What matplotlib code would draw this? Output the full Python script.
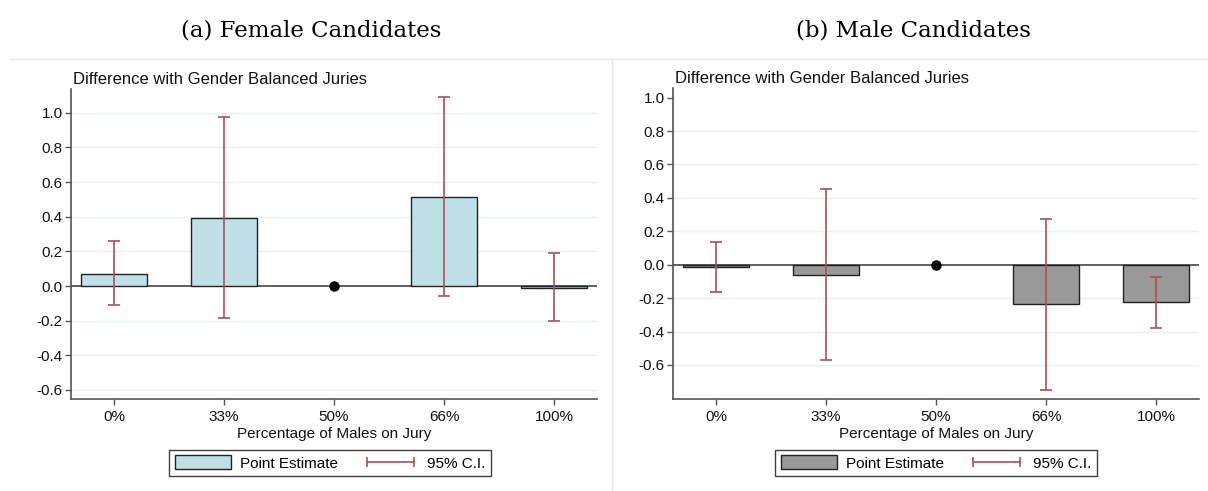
import numpy as np
import matplotlib
matplotlib.use("Agg")
import matplotlib.pyplot as plt
from matplotlib.patches import Patch
from matplotlib.lines import Line2D

plt.rcParams['font.family'] = ['Liberation Sans', 'DejaVu Sans']

# Jury composition categories
categories = ['0%', '33%', '50%', '66%', '100%']

# Female candidates: estimates and 95% CI bounds (50% is the reference group)
fem_est = [0.072, 0.392, 0.0, 0.515, -0.009]
fem_lo = [-0.112, -0.187, np.nan, -0.056, -0.200]
fem_hi = [0.257, 0.977, np.nan, 1.089, 0.188]

# Male candidates
male_est = [-0.012, -0.060, 0.0, -0.234, -0.224]
male_lo = [-0.166, -0.573, np.nan, -0.749, -0.379]
male_hi = [0.136, 0.455, np.nan, 0.275, -0.072]

fem_ticks = [1.0, 0.8, 0.6, 0.4, 0.2, 0.0, -0.2, -0.4, -0.6]
male_ticks = [1.0, 0.8, 0.6, 0.4, 0.2, 0.0, -0.2, -0.4, -0.6]

ci_color = '#a8525a'
axis_gray = '#555555'

fig = plt.figure(figsize=(12.08, 4.91), dpi=100)

# light frame lines around the two graph regions
fig.add_artist(Line2D([10 / 1208, 1], [1 - 59 / 491] * 2, color='#e8e8e8', lw=1))
fig.add_artist(Line2D([612 / 1208] * 2, [0, 1 - 59 / 491], color='#e8e8e8', lw=1))


def draw_panel(rect, est, lo, hi, ticks, ylim, color, title, title_x, leg_x):
    ax = fig.add_axes(rect)
    x = np.arange(len(categories))
    bar_idx = [i for i in x if i != 2]
    ax.bar([x[i] for i in bar_idx], [est[i] for i in bar_idx], width=0.6,
           color=color, edgecolor='#222222', linewidth=1.0, zorder=3)
    ax.axhline(0, color='#444444', lw=1.2, zorder=2)
    lo_arr = np.array(lo)
    hi_arr = np.array(hi)
    mask = ~np.isnan(lo_arr)
    mid = (lo_arr[mask] + hi_arr[mask]) / 2
    ax.errorbar(x[mask], mid, yerr=(hi_arr[mask] - lo_arr[mask]) / 2, fmt='none',
                ecolor=ci_color, elinewidth=1.2, capsize=4, capthick=1.2, zorder=4)
    ax.plot([x[2]], [est[2]], 'o', color='black', ms=6.5, zorder=5)

    ax.set_xlim(-0.39, 4.39)
    ax.set_ylim(*ylim)
    ax.set_xticks(x)
    ax.set_xticklabels(categories, fontsize=11)
    ax.set_yticks(ticks)
    ax.set_yticklabels([f'{t:.1f}' for t in ticks], fontsize=11)
    for t in ticks:
        if t != 0 and t < ylim[1] - 0.08:
            ax.axhline(t, color='#e8f0f0', lw=1, zorder=1)
    for s in ['top', 'right']:
        ax.spines[s].set_visible(False)
    for s in ['left', 'bottom']:
        ax.spines[s].set_color(axis_gray)
        ax.spines[s].set_linewidth(1.2)
    ax.tick_params(colors=axis_gray, labelcolor='#111111', length=4, width=1)
    ax.tick_params(axis='y', pad=2)
    ax.tick_params(axis='x', pad=4)
    ax.set_xlabel('Percentage of Males on Jury', fontsize=11, labelpad=2, color='#111111')
    ax.text(0.004, 1.008, 'Difference with Gender Balanced Juries', transform=ax.transAxes,
            fontsize=12, ha='left', va='bottom', color='#111111')

    fig.text(title_x, 1 - 31 / 491, title, family=['DejaVu Serif'], fontsize=16.5,
             ha='center', va='center')

    handles = [Patch(facecolor=color, edgecolor='#222222', lw=1.0),
               Line2D([0], [0], color=ci_color, lw=1.2, marker='|', ms=7, mew=1.2)]
    fig.legend(handles, ['Point Estimate', '95% C.I.'], ncol=2, loc='center',
               bbox_to_anchor=(leg_x, 1 - 463 / 491), fontsize=11, frameon=True,
               fancybox=False, edgecolor='#111111', numpoints=2, handlelength=3.7,
               handleheight=1.0, columnspacing=1.6, handletextpad=0.55,
               borderpad=0.35, borderaxespad=0)
    return ax


draw_panel([71 / 1208, 1 - 399 / 491, 526 / 1208, 310 / 491],
           fem_est, fem_lo, fem_hi, fem_ticks, (-0.652, 1.137), '#c0e0e8',
           '(a) Female Candidates', 311 / 1208, 330 / 1208)
draw_panel([673 / 1208, 1 - 399 / 491, 526 / 1208, 311 / 491],
           male_est, male_lo, male_hi, male_ticks, (-0.804, 1.058), '#999999',
           '(b) Male Candidates', 913 / 1208, 936 / 1208)

fig.savefig('out.png', dpi=100)
